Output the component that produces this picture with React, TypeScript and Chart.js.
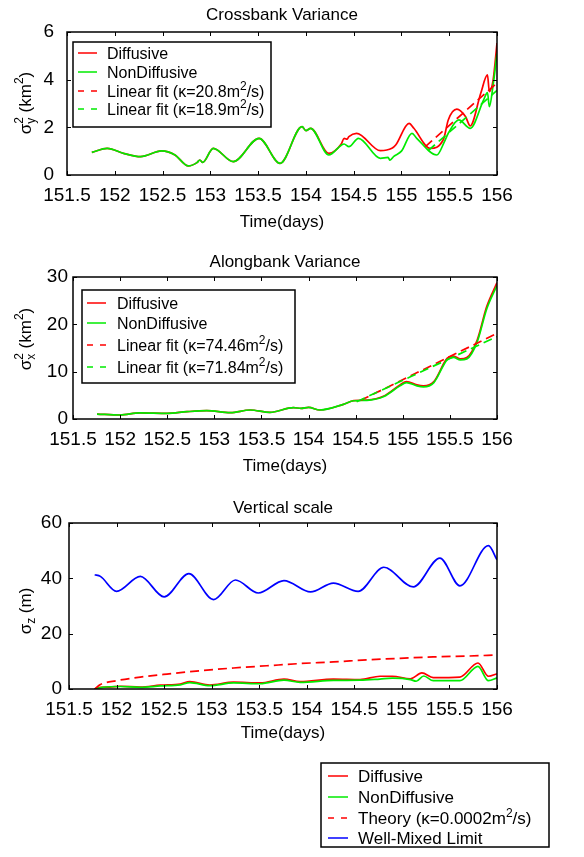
import React, { useEffect, useRef } from 'react';
import { Chart, registerables } from 'chart.js';

Chart.register(...registerables);

const FONT = '"Liberation Sans", Arial, Helvetica, sans-serif';
const RED = 'rgb(255,0,0)';
const GREEN = 'rgb(0,235,0)';
const BLUE = 'rgb(0,0,255)';

const X_MIN = 151.5;
const X_MAX = 156;
const X_STEP = 0.5;

// ---------- Panel 1: Crossbank variance (km^2) ----------
const cbDiffT = [151.76, 151.92, 152.1, 152.27, 152.49, 152.63, 152.77, 152.86, 152.89, 152.92, 153.03, 153.24, 153.51, 153.73, 153.96, 154.0, 154.05, 154.24, 154.37, 154.4, 154.43, 154.45, 154.53, 154.78, 154.9, 154.94, 155.08, 155.13, 155.3, 155.44, 155.49, 155.58, 155.67, 155.72, 155.83, 155.9, 155.92, 155.96, 156.0];
const cbDiffV = [0.95, 1.12, 0.9, 0.77, 1.01, 0.84, 0.38, 0.52, 0.63, 0.53, 1.12, 0.56, 1.54, 0.49, 2.03, 1.86, 1.96, 0.91, 1.3, 1.54, 1.5, 1.61, 1.75, 1.02, 1.12, 1.26, 2.17, 1.96, 1.12, 1.5, 2.31, 2.76, 2.45, 2.06, 3.43, 4.2, 3.5, 4.0, 5.54];
const cbNonT = [151.76, 151.92, 152.1, 152.27, 152.49, 152.63, 152.77, 152.86, 152.89, 152.92, 153.03, 153.24, 153.51, 153.73, 153.96, 154.0, 154.05, 154.24, 154.37, 154.4, 154.45, 154.55, 154.78, 154.86, 154.88, 154.92, 155.0, 155.11, 155.16, 155.37, 155.45, 155.49, 155.6, 155.72, 155.86, 155.9, 155.92, 155.96, 156.0];
const cbNonV = [0.95, 1.12, 0.9, 0.77, 1.01, 0.84, 0.38, 0.52, 0.63, 0.53, 1.12, 0.56, 1.54, 0.49, 2.03, 1.86, 1.96, 0.84, 1.25, 1.3, 1.19, 1.54, 0.7, 0.74, 0.62, 0.78, 1.0, 1.75, 1.54, 0.84, 1.4, 1.75, 2.31, 1.96, 3.15, 3.46, 2.87, 3.8, 5.1];
const cbFitDiffT = [155.25, 156.0];
const cbFitDiffV = [1.19, 3.86];
const cbFitNonT = [155.28, 156.0];
const cbFitNonV = [1.02, 3.55];

// ---------- Panel 2: Alongbank variance (km^2) ----------
const abT = [151.755, 152.0, 152.21, 152.5, 152.71, 152.92, 153.17, 153.38, 153.59, 153.84, 153.92, 154.0, 154.12, 154.37, 154.48, 154.62, 154.8, 154.97, 155.04, 155.15, 155.22, 155.33, 155.47, 155.54, 155.61, 155.68, 155.79, 155.89, 156.0];
const abDiffV = [1.05, 0.85, 1.3, 1.2, 1.55, 1.75, 1.35, 1.9, 1.4, 2.4, 2.25, 2.46, 1.9, 3.1, 3.9, 4.0, 4.85, 7.2, 7.9, 7.2, 7.0, 7.9, 12.8, 13.3, 12.7, 13.0, 16.7, 23.7, 28.8];
const abNonV = [1.05, 0.85, 1.3, 1.2, 1.55, 1.75, 1.35, 1.9, 1.4, 2.4, 2.25, 2.46, 1.9, 3.1, 3.85, 3.95, 4.75, 7.0, 7.7, 7.0, 6.8, 7.7, 12.5, 13.0, 12.5, 12.7, 16.3, 23.2, 28.2];
const abFitDiffT = [154.55, 156.0];
const abFitDiffV = [3.9, 18.1];
const abFitNonT = [154.51, 156.0];
const abFitNonV = [3.65, 17.4];

// ---------- Panel 3: Vertical scale (m) ----------
const vsWellT = [151.77, 151.83, 152.0, 152.25, 152.5, 152.76, 153.02, 153.25, 153.49, 153.76, 154.04, 154.28, 154.54, 154.81, 155.12, 155.4, 155.61, 155.91, 156.0];
const vsWellV = [41.3, 40.7, 35.3, 40.7, 33.3, 41.7, 32.3, 39.4, 34.7, 39.2, 35.1, 38.3, 35.3, 44.0, 36.9, 47.3, 37.3, 51.8, 46.7];
const vsDiffT = [151.77, 151.83, 151.93, 152.04, 152.25, 152.46, 152.67, 152.77, 152.98, 153.23, 153.51, 153.76, 153.93, 154.28, 154.56, 154.77, 154.9, 155.09, 155.21, 155.33, 155.61, 155.8, 155.91, 156.0];
const vsDiffV = [0.0, 0.6, 0.7, 1.0, 0.7, 1.4, 1.8, 2.65, 1.45, 2.5, 2.2, 3.6, 2.65, 3.6, 3.4, 4.6, 4.6, 3.7, 5.8, 4.1, 4.3, 9.4, 4.6, 5.5];
const vsNonT = [151.77, 151.85, 152.04, 152.25, 152.46, 152.67, 152.77, 152.98, 153.23, 153.51, 153.76, 153.93, 154.28, 154.56, 154.77, 154.9, 155.09, 155.15, 155.23, 155.33, 155.61, 155.8, 155.91, 156.0];
const vsNonV = [0.0, 0.6, 0.9, 0.6, 1.1, 1.5, 2.3, 1.2, 2.2, 1.9, 3.2, 2.4, 3.1, 3.2, 3.6, 3.9, 3.4, 2.8, 4.7, 3.0, 3.0, 8.2, 3.0, 4.0];
const vsTheoryT = [151.77, 151.83, 152.0, 152.25, 152.53, 152.88, 153.23, 153.58, 153.93, 154.28, 154.63, 154.98, 155.33, 155.68, 156.0];
const vsTheoryV = [0.0, 1.6, 3.0, 4.3, 5.4, 6.6, 7.6, 8.4, 9.2, 9.8, 10.5, 11.1, 11.6, 11.9, 12.3];

const pts = (t: number[], v: number[]) => t.map((x, i) => ({ x, y: v[i] }));

type Seg = { t: string; sup?: string; sub?: string };

function segWidth(ctx: CanvasRenderingContext2D, s: Seg, size: number) {
  const small = Math.round(size * 0.72);
  let w = 0;
  if (s.t) { ctx.font = `${size}px ${FONT}`; w += ctx.measureText(s.t).width; }
  if (s.sup || s.sub) {
    ctx.font = `${small}px ${FONT}`;
    w += Math.max(s.sup ? ctx.measureText(s.sup).width : 0, s.sub ? ctx.measureText(s.sub).width : 0);
  }
  return w;
}

// draws segments starting at x, alphabetic baseline at base (local coordinates)
function drawSegs(ctx: CanvasRenderingContext2D, segs: Seg[], x: number, base: number, size: number) {
  const small = Math.round(size * 0.72);
  ctx.textAlign = 'left';
  ctx.textBaseline = 'alphabetic';
  segs.forEach((s) => {
    if (s.t) { ctx.font = `${size}px ${FONT}`; ctx.fillText(s.t, x, base); x += ctx.measureText(s.t).width; }
    if (s.sup || s.sub) {
      ctx.font = `${small}px ${FONT}`;
      let w = 0;
      if (s.sup) { ctx.fillText(s.sup, x, base - size * 0.42); w = Math.max(w, ctx.measureText(s.sup).width); }
      if (s.sub) { ctx.fillText(s.sub, x, base + size * 0.24); w = Math.max(w, ctx.measureText(s.sub).width); }
      x += w;
    }
  });
}

function drawRichVertical(ctx: CanvasRenderingContext2D, segs: Seg[], cx: number, cy: number, size: number) {
  const total = segs.reduce((a, s) => a + segWidth(ctx, s, size), 0);
  ctx.save();
  ctx.translate(cx, cy);
  ctx.rotate(-Math.PI / 2);
  ctx.fillStyle = '#000';
  drawSegs(ctx, segs, -total / 2, size * 0.33, size);
  ctx.restore();
}

type LegendItem = { label: Seg[]; color: string; dash: boolean };
type DecorOpts = {
  title: string; titleY: number; xTitle: string; xTitleY: number;
  yTitle: Seg[]; yTitleX: number; yTitleY: number;
  legend: { x: number; y: number; w: number; h: number; rows: number[]; lx1: number; lx2: number; tx: number; size: number; items: LegendItem[] };
};

const decorPlugin = {
  id: 'decor',
  afterDraw(chart: any, _args: any, o: DecorOpts) {
    const ctx: CanvasRenderingContext2D = chart.ctx;
    const { left, right, top, bottom } = chart.chartArea;
    ctx.save();
    // ticks (inward, all four sides)
    ctx.strokeStyle = '#000';
    ctx.lineWidth = 1;
    const xs = chart.scales.x;
    const ys = chart.scales.y;
    xs.ticks.forEach((_t: any, i: number) => {
      const px = Math.round(xs.getPixelForTick(i)) + 0.5;
      ctx.beginPath();
      ctx.moveTo(px, bottom); ctx.lineTo(px, bottom - 4);
      ctx.moveTo(px, top); ctx.lineTo(px, top + 4);
      ctx.stroke();
    });
    ys.ticks.forEach((_t: any, i: number) => {
      const py = Math.round(ys.getPixelForTick(i)) + 0.5;
      ctx.beginPath();
      ctx.moveTo(left, py); ctx.lineTo(left + 4, py);
      ctx.moveTo(right, py); ctx.lineTo(right - 4, py);
      ctx.stroke();
    });
    // frame
    ctx.lineWidth = 1.5;
    ctx.strokeRect(left, top, right - left, bottom - top);
    // titles
    ctx.fillStyle = '#000';
    ctx.textAlign = 'center';
    ctx.textBaseline = 'middle';
    ctx.font = `17px ${FONT}`;
    ctx.fillText(o.title, (left + right) / 2, o.titleY);
    ctx.fillText(o.xTitle, (left + right) / 2, o.xTitleY);
    drawRichVertical(ctx, o.yTitle, o.yTitleX, o.yTitleY, 17);
    // legend
    const L = o.legend;
    ctx.fillStyle = '#fff';
    ctx.fillRect(L.x, L.y, L.w, L.h);
    ctx.lineWidth = 1.5;
    ctx.strokeStyle = '#000';
    ctx.strokeRect(L.x, L.y, L.w, L.h);
    L.items.forEach((it, i) => {
      const y = L.rows[i];
      ctx.strokeStyle = it.color;
      ctx.lineWidth = 1.5;
      ctx.setLineDash(it.dash ? [6, 7] : []);
      ctx.beginPath();
      ctx.moveTo(L.lx1, y); ctx.lineTo(L.lx2, y);
      ctx.stroke();
      ctx.setLineDash([]);
      ctx.fillStyle = '#000';
      drawSegs(ctx, it.label, L.tx, y + L.size * 0.36, L.size);
    });
    ctx.restore();
  },
};

type Series = { t: number[]; v: number[]; color: string; dash: number[]; order: number };
type Panel = {
  height: number; left: number; right: number; top: number; bottom: number;
  yMin: number; yMax: number; yStep: number; yPad: number;
  series: Series[]; decor: DecorOpts;
};

function makeConfig(p: Panel): any {
  return {
    type: 'line',
    data: {
      datasets: p.series.map((s) => ({
        data: pts(s.t, s.v),
        borderColor: s.color,
        borderWidth: 1.7,
        borderDash: s.dash,
        pointRadius: 0,
        fill: false,
        cubicInterpolationMode: 'monotone',
        order: s.order,
      })),
    },
    options: {
      animation: false,
      responsive: false,
      maintainAspectRatio: false,
      devicePixelRatio: 1,
      events: [],
      layout: { padding: { top: p.top, right: 584 - p.right, left: 0, bottom: 0 } },
      plugins: { legend: { display: false }, tooltip: { enabled: false }, decor: p.decor },
      scales: {
        x: {
          type: 'linear', min: X_MIN, max: X_MAX,
          afterFit: (sc: any) => { sc.height = p.height - p.bottom; },
          grid: { display: false, drawTicks: false },
          border: { display: false },
          ticks: { stepSize: X_STEP, autoSkip: false, maxRotation: 0, padding: 9, color: '#000', font: { family: FONT, size: 19 }, callback: (v: number) => String(v) },
        },
        y: {
          type: 'linear', min: p.yMin, max: p.yMax,
          afterFit: (sc: any) => { sc.width = p.left; },
          grid: { display: false, drawTicks: false },
          border: { display: false },
          ticks: { stepSize: p.yStep, padding: p.yPad, color: '#000', font: { family: FONT, size: 19 } },
        },
      },
    },
    plugins: [decorPlugin],
  };
}

const panel1: Panel = {
  height: 235, left: 67, right: 497, top: 32, bottom: 175,
  yMin: 0, yMax: 6, yStep: 2, yPad: 13,
  series: [
    { t: cbDiffT, v: cbDiffV, color: RED, dash: [], order: 3 },
    { t: cbNonT, v: cbNonV, color: GREEN, dash: [], order: 2 },
    { t: cbFitDiffT, v: cbFitDiffV, color: RED, dash: [9, 5], order: 1 },
    { t: cbFitNonT, v: cbFitNonV, color: GREEN, dash: [9, 5], order: 0 },
  ],
  decor: {
    title: 'Crossbank Variance', titleY: 15, xTitle: 'Time(days)', xTitleY: 222,
    yTitle: [{ t: 'σ', sup: '2', sub: 'y' }, { t: ' (km', sup: '2' }, { t: ')' }], yTitleX: 25, yTitleY: 103,
    legend: {
      x: 73, y: 42, w: 198, h: 85, rows: [53, 72, 91, 109], lx1: 78, lx2: 97, tx: 107, size: 16,
      items: [
        { label: [{ t: 'Diffusive' }], color: RED, dash: false },
        { label: [{ t: 'NonDiffusive' }], color: GREEN, dash: false },
        { label: [{ t: 'Linear fit (κ=20.8m', sup: '2' }, { t: '/s)' }], color: RED, dash: true },
        { label: [{ t: 'Linear fit (κ=18.9m', sup: '2' }, { t: '/s)' }], color: GREEN, dash: true },
      ],
    },
  },
};

const panel2: Panel = {
  height: 240, left: 73, right: 497, top: 42, bottom: 184,
  yMin: 0, yMax: 30, yStep: 10, yPad: 5,
  series: [
    { t: abT, v: abDiffV, color: RED, dash: [], order: 3 },
    { t: abT, v: abNonV, color: GREEN, dash: [], order: 2 },
    { t: abFitDiffT, v: abFitDiffV, color: RED, dash: [9, 5], order: 1 },
    { t: abFitNonT, v: abFitNonV, color: GREEN, dash: [9, 5], order: 0 },
  ],
  decor: {
    title: 'Alongbank Variance', titleY: 27, xTitle: 'Time(days)', xTitleY: 231,
    yTitle: [{ t: 'σ', sup: '2', sub: 'x' }, { t: ' (km', sup: '2' }, { t: ')' }], yTitleX: 25, yTitleY: 104,
    legend: {
      x: 82, y: 55, w: 213, h: 93, rows: [68, 88, 110, 132], lx1: 87, lx2: 106, tx: 117, size: 16,
      items: [
        { label: [{ t: 'Diffusive' }], color: RED, dash: false },
        { label: [{ t: 'NonDiffusive' }], color: GREEN, dash: false },
        { label: [{ t: 'Linear fit (κ=74.46m', sup: '2' }, { t: '/s)' }], color: RED, dash: true },
        { label: [{ t: 'Linear fit (κ=71.84m', sup: '2' }, { t: '/s)' }], color: GREEN, dash: true },
      ],
    },
  },
};

const panel3: Panel = {
  height: 382, left: 69, right: 497, top: 48, bottom: 214,
  yMin: 0, yMax: 60, yStep: 20, yPad: 7,
  series: [
    { t: vsDiffT, v: vsDiffV, color: RED, dash: [], order: 3 },
    { t: vsNonT, v: vsNonV, color: GREEN, dash: [], order: 2 },
    { t: vsTheoryT, v: vsTheoryV, color: RED, dash: [9, 5], order: 1 },
    { t: vsWellT, v: vsWellV, color: BLUE, dash: [], order: 0 },
  ],
  decor: {
    title: 'Vertical scale', titleY: 33, xTitle: 'Time(days)', xTitleY: 258,
    yTitle: [{ t: 'σ', sub: 'z' }, { t: ' (m)' }], yTitleX: 25, yTitleY: 136,
    legend: {
      x: 321, y: 288, w: 228, h: 84, rows: [301, 322, 343, 363], lx1: 328, lx2: 348, tx: 358, size: 17,
      items: [
        { label: [{ t: 'Diffusive' }], color: RED, dash: false },
        { label: [{ t: 'NonDiffusive' }], color: GREEN, dash: false },
        { label: [{ t: 'Theory (κ=0.0002m', sup: '2' }, { t: '/s)' }], color: RED, dash: true },
        { label: [{ t: 'Well-Mixed Limit' }], color: BLUE, dash: false },
      ],
    },
  },
};

function PanelChart({ p, top }: { p: Panel; top: number }) {
  const ref = useRef<HTMLCanvasElement | null>(null);
  useEffect(() => {
    if (!ref.current) return;
    const chart = new Chart(ref.current, makeConfig(p));
    return () => chart.destroy();
  }, [p]);
  return (
    <canvas
      ref={ref}
      width={584}
      height={p.height}
      style={{ position: 'absolute', left: 0, top, width: 584, height: p.height, display: 'block' }}
    />
  );
}

export default function App() {
  return (
    <div style={{ position: 'absolute', left: 0, top: 0, width: 584, height: 857, background: '#fff' }}>
      <PanelChart p={panel1} top={0} />
      <PanelChart p={panel2} top={235} />
      <PanelChart p={panel3} top={475} />
    </div>
  );
}
